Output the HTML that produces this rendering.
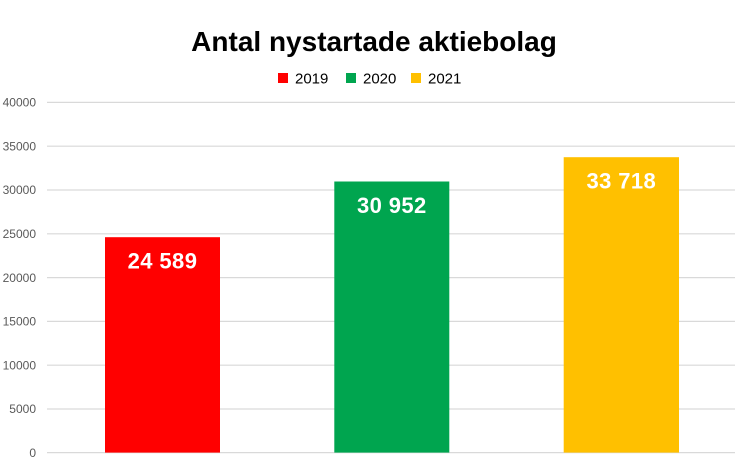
<!DOCTYPE html>
<html><head><meta charset="utf-8"><style>
html,body{margin:0;padding:0;background:#fff;width:746px;height:464px;overflow:hidden}
svg{display:block}
</style></head><body>
<svg width="746" height="464" viewBox="0 0 746 464" xmlns="http://www.w3.org/2000/svg">
<rect width="746" height="464" fill="#fff"/>
<text x="374" y="51" text-anchor="middle" font-family="Liberation Sans, sans-serif" font-weight="bold" font-size="28" fill="#000">Antal nystartade aktiebolag</text>
<g font-family="Liberation Sans, sans-serif" font-size="15" fill="#000">
<rect x="278" y="73" width="10" height="10" fill="#ff0000"/>
<text x="295" y="83.5">2019</text>
<rect x="346" y="73" width="10" height="10" fill="#00a54f"/>
<text x="363" y="83.5">2020</text>
<rect x="411" y="73" width="10" height="10" fill="#ffc000"/>
<text x="428" y="83.5">2021</text>
</g>
<g stroke="#d9d9d9" stroke-width="1.2">
<line x1="47" x2="735" y1="102.4" y2="102.4"/>
<line x1="47" x2="735" y1="146.2" y2="146.2"/>
<line x1="47" x2="735" y1="190" y2="190"/>
<line x1="47" x2="735" y1="233.8" y2="233.8"/>
<line x1="47" x2="735" y1="277.6" y2="277.6"/>
<line x1="47" x2="735" y1="321.4" y2="321.4"/>
<line x1="47" x2="735" y1="365.2" y2="365.2"/>
<line x1="47" x2="735" y1="409" y2="409"/>
<line x1="47" x2="735" y1="452.6" y2="452.6"/>
</g>
<g font-family="Liberation Sans, sans-serif" font-size="12" fill="#595959" text-anchor="end">
<text x="36" y="106.6">40000</text>
<text x="36" y="150.4">35000</text>
<text x="36" y="194.2">30000</text>
<text x="36" y="238">25000</text>
<text x="36" y="281.8">20000</text>
<text x="36" y="325.6">15000</text>
<text x="36" y="369.4">10000</text>
<text x="36" y="413.2">5000</text>
<text x="36" y="457">0</text>
</g>
<rect x="105" y="237.2" width="115" height="215.4" fill="#ff0000"/>
<rect x="334.3" y="181.5" width="115" height="271.1" fill="#00a54f"/>
<rect x="563.7" y="157.2" width="115.3" height="295.4" fill="#ffc000"/>
<g font-family="Liberation Sans, sans-serif" font-weight="bold" font-size="22" fill="#fff" text-anchor="middle" letter-spacing="0.4">
<text x="162.5" y="268.5">24 589</text>
<text x="391.8" y="213">30 952</text>
<text x="621.3" y="188.5">33 718</text>
</g>
</svg>
</body></html>
